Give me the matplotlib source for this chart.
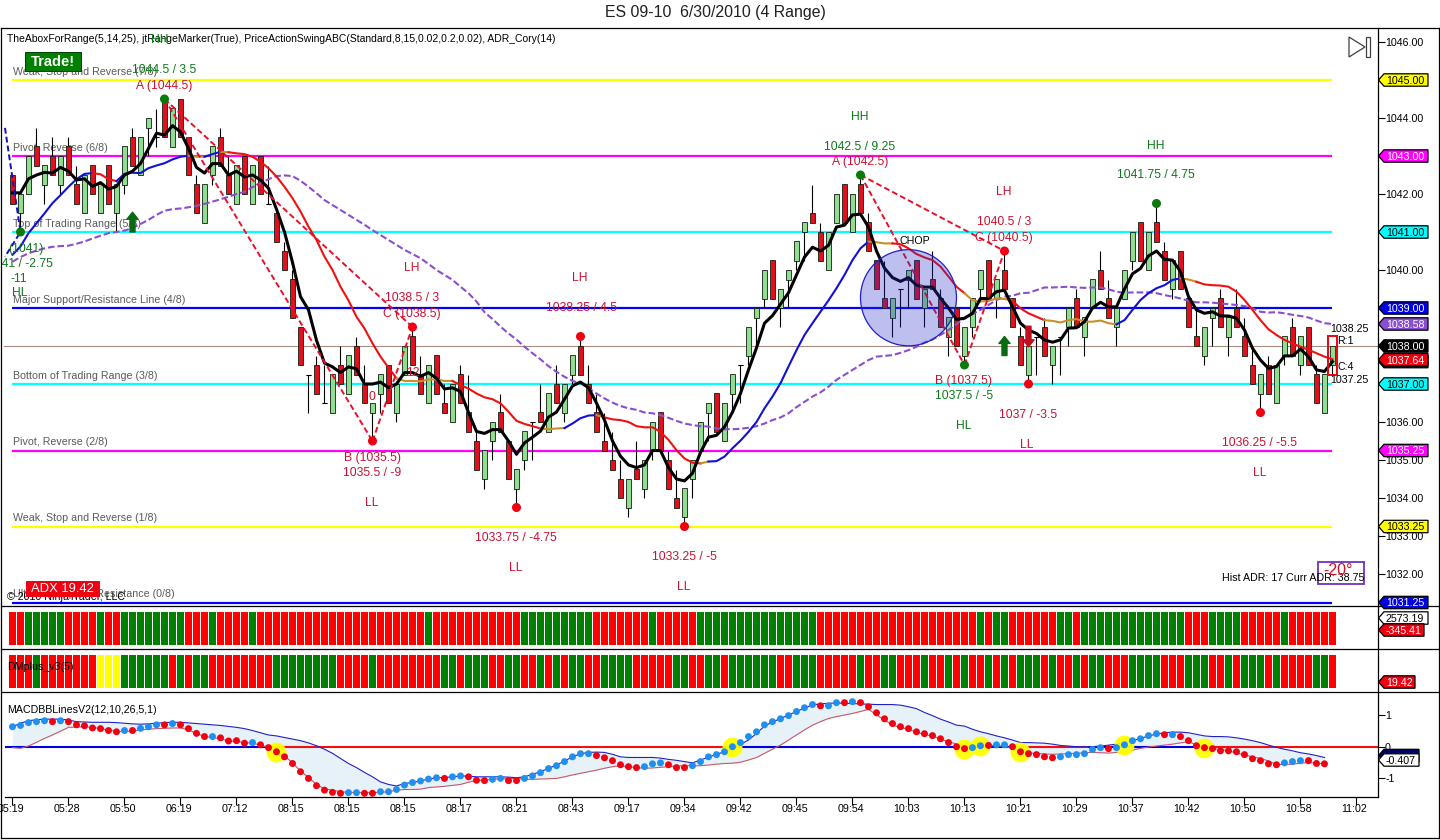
import numpy as np
import matplotlib
matplotlib.use("Agg")
import matplotlib.pyplot as plt
from matplotlib.lines import Line2D
from matplotlib.patches import Polygon, Rectangle, Ellipse
from matplotlib.transforms import IdentityTransform, ScaledTranslation

plt.rcParams['font.family'] = ['Liberation Sans', 'DejaVu Sans']
plt.rcParams['axes.unicode_minus'] = False

W, H = 1440, 840

# range bars
bar_open = [1042.5,1041.5,1042,1043.25,1042.25,1043,1042.25,1043.25,1042.25,1041.5,
 1042.75,1041.5,1042.75,1041.5,1042.25,1043.5,1042.5,1043.75,1043.5,1044.5,
 1043.25,1044.5,1043.5,1042.25,1041.25,1042.5,1043.5,1042.5,1041.75,1043,
 1041.75,1043,1041.75,1041.5,1040.5,1039.75,1038.5,1037.25,1037.5,1036.5,
 1036.25,1037.5,1036.75,1038,1037,1036.25,1036.75,1037.5,1036.25,1037.25,
 1038.25,1037.25,1036.5,1037.75,1036.5,1036,1037.25,1036.25,1035.5,1034.5,
 1035.5,1036.25,1035.5,1034.25,1035,1036,1036.25,1035.75,1037,1036.25,
 1037.25,1038,1037,1036.25,1035.5,1035,1034.5,1033.75,1034.75,1034.25,
 1035.25,1036.25,1035,1034,1033.5,1034.5,1035.25,1036.25,1036.75,1035.5,
 1036.75,1037.5,1037.75,1038.75,1039.25,1040.25,1039,1039.75,1040.25,1041,
 1041.5,1041,1040,1041.25,1042.25,1041,1042.25,1041.25,1040.25,1039.25,
 1038.75,1039.5,1039.75,1040.25,1039,1039.75,1039.25,1038.25,1039,1037.75,
 1038.5,1039.5,1040.25,1039.25,1040,1039.25,1038.25,1037.25,1038.25,1038.5,
 1037.5,1038.25,1038.5,1039.25,1038.25,1039,1040,1039.25,1038.5,1039.25,
 1040.25,1041.25,1040,1041.25,1040.5,1039.5,1040.5,1039.25,1038.25,1037.75,
 1038.75,1039.25,1038.25,1039,1038.25,1037.5,1036.75,1037.5,1036.5,1037.75,
 1038.5,1037.5,1038.5,1037.25,1036.25,1037.5]
bar_high = [1042.5,1042,1043,1043.75,1042.75,1043.5,1043,1043.5,1042.75,1042.5,
 1042.75,1042.25,1042.75,1042.25,1043.25,1043.75,1043.5,1044,1044.25,1044.5,
 1044.25,1044.5,1043.5,1042.5,1042.25,1043.25,1043.75,1043,1042.75,1043,
 1042.75,1043,1042.75,1041.5,1040.75,1040,1038.5,1037.25,1037.75,1037.5,
 1037.25,1038,1037.75,1038.25,1037.5,1036.5,1037.25,1037.5,1037,1038,
 1038.5,1037.75,1037.5,1037.75,1037,1037,1037.5,1037.25,1035.75,1035.25,
 1036,1036.75,1035.5,1034.75,1035.75,1036,1037,1036.75,1037.5,1037,
 1037.75,1038.25,1037.5,1036.75,1036.25,1035.75,1035,1034.5,1035.5,1035,
 1036,1036.25,1035.25,1034.75,1034.25,1035,1036,1036.5,1036.75,1036.5,
 1037.25,1037.5,1038.5,1039,1040,1040.25,1039.5,1040,1040.75,1041.25,
 1042.25,1041.25,1041,1042,1042.25,1042,1042.5,1041.5,1040.25,1040.25,
 1039.25,1039.5,1040,1040.25,1039.5,1040.5,1039.5,1038.75,1039,1038.5,
 1039.25,1040,1040.25,1039.75,1040.5,1039.25,1038.5,1038,1038.25,1038.75,
 1038,1038.25,1039,1039.5,1038.75,1039.75,1040.5,1039.75,1039,1040,
 1041,1041.25,1041,1041.75,1040.75,1040.25,1040.5,1039.25,1039,1038.5,
 1039,1039.5,1038.75,1039.5,1038.75,1038,1037.25,1037.75,1037.5,1038.25,
 1038.75,1038.25,1038.5,1037.5,1037.25,1038]
bar_low = [1041.75,1041,1042,1042.75,1041.75,1042.5,1042,1042.5,1041.75,1041.5,
 1042,1041.5,1041.75,1041,1042,1042.75,1042.5,1043,1043.25,1043.5,
 1043.25,1043.5,1042.5,1041.5,1041.25,1042.25,1042.75,1042,1041.75,1042,
 1041.75,1042,1041.75,1040.75,1040,1038.75,1037.5,1036.25,1036.75,1036.5,
 1036.25,1037,1036.75,1037.25,1036.5,1035.5,1036.25,1036.5,1036,1037.25,
 1037.5,1036.75,1036.5,1036.75,1036.25,1036,1036.5,1035.75,1034.75,1034.25,
 1035,1035.75,1034.5,1033.75,1034.75,1035,1036,1035.75,1036.5,1036,
 1037,1037.25,1036.5,1035.75,1035.25,1034.75,1034,1033.5,1034.5,1034,
 1035,1035.25,1034.25,1033.75,1033.25,1034,1035.25,1035.5,1035.75,1035.5,
 1036.25,1036.5,1037.5,1038,1039,1039.25,1038.5,1039,1040,1040.25,
 1041.25,1040.25,1040,1041.25,1041.25,1041,1041.5,1040.5,1039.5,1039,
 1038.25,1038.5,1039,1039.25,1038.5,1039.5,1038.5,1037.75,1038,1037.5,
 1038.25,1039.25,1039.25,1038.75,1039.5,1038.5,1037.5,1037,1037.25,1037.75,
 1037,1037.25,1038,1038.5,1037.75,1039,1039.5,1038.75,1038,1039.25,
 1040,1040.25,1040,1040.75,1039.75,1039.25,1039.5,1038.5,1038,1037.5,
 1038,1038.5,1037.75,1038.5,1037.75,1037,1036.25,1036.75,1036.5,1037.5,
 1037.75,1037.25,1037.5,1036.5,1036.25,1037.25]
bar_close = [1041.75,1042,1043,1042.75,1042.75,1042.5,1043,1042.5,1041.75,1042.5,
 1042,1042.25,1041.75,1042.25,1043.25,1042.75,1043.5,1044,1043.5,1043.5,
 1044.25,1043.5,1042.5,1041.5,1042.25,1043.25,1042.75,1042,1042.75,1042,
 1042.75,1042,1041.75,1040.75,1040,1038.75,1037.5,1037.25,1036.75,1036.5,
 1037.25,1037,1037.75,1037.25,1036.5,1036.5,1037.25,1036.5,1037,1038,
 1037.5,1036.75,1037.5,1036.75,1036.25,1037,1036.5,1035.75,1034.75,1035.25,
 1036,1035.75,1034.5,1034.75,1035.75,1036,1036,1036.75,1036.5,1037,
 1037.75,1037.25,1036.5,1035.75,1035.25,1034.75,1034,1034.5,1034.5,1035,
 1036,1035.25,1034.25,1033.75,1034.25,1035,1036,1036.5,1035.75,1036.5,
 1037.25,1037.5,1038.5,1039,1040,1039.25,1039.5,1040,1040.75,1041.25,
 1041.25,1040.25,1041,1042,1041.25,1042,1041.5,1040.5,1039.5,1039,
 1039.25,1039.5,1040,1039.25,1039.5,1039.5,1038.5,1038.75,1038,1038.5,
 1039.25,1040,1039.25,1039.75,1039.5,1038.5,1037.5,1038,1038.25,1037.75,
 1038,1038.25,1039,1038.5,1038.75,1039.75,1039.5,1038.75,1039,1040,
 1041,1040.25,1041,1040.75,1039.75,1040.25,1039.5,1038.5,1038,1038.5,
 1039,1038.5,1038.75,1038.5,1037.75,1037,1037.25,1036.75,1037.5,1038.25,
 1037.75,1038.25,1037.5,1036.5,1037.25,1038]

# black fast average
fast_line = [1042.03,1042.03,1042.4,1042.5,1042.57,1042.55,1042.7,1042.6,1042.37,1042.4,
 1042.2,1042.3,1042.13,1042.2,1042.5,1042.6,1042.8,1043.2,1043.6,1043.55,
 1043.8,1043.63,1043.2,1042.7,1042.55,1042.8,1042.8,1042.5,1042.6,1042.45,
 1042.5,1042.37,1042.15,1041.6,1041,1040.2,1039.3,1038.95,1038.15,1037.55,
 1037.45,1037.3,1037.45,1037.4,1037,1037,1037.05,1036.9,1037,1037.3,
 1037.3,1037.2,1037.3,1037.15,1036.87,1036.9,1036.8,1036.25,1035.75,1035.7,
 1035.8,1035.8,1035.5,1035.15,1035.45,1035.6,1035.76,1036.13,1036.26,1036.6,
 1036.95,1037.05,1036.9,1036.5,1036.05,1035.5,1035.1,1034.87,1034.8,1034.87,
 1035.25,1035.25,1034.8,1034.5,1034.45,1034.65,1035.2,1035.6,1035.65,1035.87,
 1036.26,1036.75,1037.37,1037.95,1038.6,1038.8,1039.1,1039.4,1039.87,1040.34,
 1040.6,1040.5,1040.65,1041.13,1041.18,1041.45,1041.47,1041.13,1040.5,1040.05,
 1039.8,1039.7,1039.8,1039.6,1039.55,1039.55,1039.26,1039,1038.7,1038.73,
 1038.86,1039.25,1039.25,1039.43,1039.47,1039.03,1038.6,1038.42,1038.33,1038.16,
 1038.1,1038.16,1038.47,1038.48,1038.64,1039,1039.15,1039.03,1039.03,1039.5,
 1039.9,1040.04,1040.37,1040.5,1040.28,1040.26,1039.96,1039.3,1038.95,1038.86,
 1038.9,1038.79,1038.79,1038.73,1038.42,1037.94,1037.63,1037.41,1037.46,1037.74,
 1037.74,1037.92,1037.72,1037.37,1037.33,1037.59]

# blue/red/orange trend average
trend_line = [1040.4,1040.62,1040.97,1041.23,1041.49,1041.76,1041.97,1042.19,1042.39,1042.53,
 1042.55,1042.52,1042.39,1042.34,1042.53,1042.56,1042.55,1042.68,1042.75,1042.81,
 1042.91,1042.98,1043.01,1042.98,1042.98,1043.05,1043.11,1043.1,1043.07,1043.05,
 1042.98,1042.85,1042.68,1042.46,1042.19,1041.89,1041.54,1041.14,1040.79,1040.35,
 1040,1039.56,1039.2,1038.77,1038.46,1038.07,1037.72,1037.43,1037.15,1037.08,
 1037.08,1037.07,1037.12,1037.12,1037.08,1037.08,1036.97,1036.88,1036.75,1036.65,
 1036.6,1036.49,1036.27,1036.03,1035.95,1035.89,1035.83,1035.81,1035.83,1035.84,
 1035.96,1036.1,1036.17,1036.18,1036.12,1036.07,1036.05,1036,1035.89,1035.86,
 1035.86,1035.74,1035.53,1035.26,1035.04,1034.93,1034.91,1034.96,1034.97,1035.09,
 1035.31,1035.51,1035.74,1036,1036.36,1036.67,1037.02,1037.46,1037.89,1038.29,
 1038.6,1038.9,1039.2,1039.52,1039.87,1040.26,1040.57,1040.75,1040.73,1040.7,
 1040.7,1040.68,1040.57,1040.42,1040.33,1040.26,1040.09,1039.83,1039.56,1039.39,
 1039.2,1039.17,1039.19,1039.25,1039.24,1039.19,1038.99,1038.86,1038.77,1038.68,
 1038.66,1038.62,1038.68,1038.71,1038.64,1038.64,1038.67,1038.6,1038.57,1038.68,
 1038.95,1039.21,1039.39,1039.52,1039.6,1039.74,1039.78,1039.75,1039.69,1039.62,
 1039.6,1039.59,1039.56,1039.43,1039.21,1038.95,1038.68,1038.44,1038.29,1038.16,
 1038.07,1037.98,1037.9,1037.81,1037.72,1037.65]
trend_runs = [(0,10,'b'),(10,13,'r'),(13,22,'b'),(22,24,'o'),(24,26,'b'),(26,27,'o'),(27,48,'r'),
 (48,55,'o'),(55,66,'r'),(66,69,'o'),(69,73,'b'),(73,74,'o'),(74,86,'r'),(86,87,'o'),(87,107,'b'),
 (107,110,'o'),(110,119,'r'),(119,125,'o'),(125,129,'r'),(129,138,'o'),(138,146,'b'),(146,148,'o'),(148,165,'r')]

# purple dashed slow average
slow_line = [1040.22,1040.34,1040.44,1040.51,1040.57,1040.61,1040.63,1040.64,1040.69,1040.75,
 1040.83,1040.9,1040.97,1041,1041.04,1041.1,1041.21,1041.32,1041.45,1041.56,
 1041.6,1041.62,1041.65,1041.69,1041.74,1041.8,1041.86,1041.93,1042,1042.06,
 1042.18,1042.28,1042.39,1042.47,1042.49,1042.47,1042.35,1042.19,1042.02,1041.84,
 1041.71,1041.58,1041.45,1041.32,1041.19,1041.05,1040.92,1040.79,1040.66,1040.53,
 1040.42,1040.31,1040.16,1040,1039.87,1039.74,1039.56,1039.39,1039.17,1038.89,
 1038.71,1038.51,1038.33,1038.17,1037.98,1037.81,1037.65,1037.47,1037.32,1037.19,
 1037.08,1037.02,1036.89,1036.75,1036.62,1036.51,1036.42,1036.36,1036.32,1036.25,
 1036.23,1036.18,1036.11,1036.03,1035.96,1035.92,1035.89,1035.88,1035.83,1035.81,
 1035.81,1035.82,1035.85,1035.89,1035.96,1036.05,1036.12,1036.23,1036.39,1036.53,
 1036.67,1036.78,1036.93,1037.11,1037.24,1037.37,1037.5,1037.63,1037.72,1037.74,
 1037.76,1037.82,1037.89,1037.98,1038.09,1038.17,1038.29,1038.42,1038.58,1038.73,
 1038.84,1038.95,1039.08,1039.21,1039.3,1039.32,1039.39,1039.4,1039.47,1039.54,
 1039.54,1039.55,1039.56,1039.54,1039.53,1039.54,1039.54,1039.49,1039.43,1039.4,
 1039.41,1039.41,1039.41,1039.39,1039.34,1039.3,1039.25,1039.19,1039.15,1039.15,
 1039.14,1039.12,1039.1,1039.08,1039.05,1038.99,1038.9,1038.88,1038.89,1038.86,
 1038.82,1038.79,1038.75,1038.67,1038.6,1038.58]

# octave levels
level_values = [1045, 1043, 1041, 1039, 1037, 1035.25, 1033.25, 1031.25]
level_colors = ['#FFFF00', '#FF00FF', '#00FFFF', '#0000FF', '#00FFFF', '#FF00FF', '#FFFF00', '#0000FF']
level_names = ['Weak, Stop and Reverse (7/8)', 'Pivot, Reverse (6/8)', 'Top of Trading Range (5/8)',
               'Major Support/Resistance Line (4/8)', 'Bottom of Trading Range (3/8)',
               'Pivot, Reverse (2/8)', 'Weak, Stop and Reverse (1/8)', 'Ultimate Support/Resistance (0/8)']
last_price = 1038.0

# swing points: bar, price, colour
swing_bars = [1, 19, 45, 50, 63, 71, 84, 106, 119, 124, 127, 143, 156]
swing_prices = [1041, 1044.5, 1035.5, 1038.5, 1033.75, 1038.25, 1033.25, 1042.5, 1037.5, 1040.5, 1037, 1041.75, 1036.25]
swing_cols = ['g', 'g', 'r', 'r', 'r', 'r', 'r', 'g', 'g', 'r', 'r', 'g', 'r']
abc_legs = [((19, 1044.5), (45, 1035.5)), ((19, 1044.5), (50, 1038.5)), ((45, 1035.5), (50, 1038.5)),
            ((106, 1042.5), (119, 1037.5)), ((106, 1042.5), (124, 1040.5)), ((119, 1037.5), (124, 1040.5))]
early_leg_x = [-0.94, 1, -0.94]
early_leg_y = [1043.74, 1041, 1040.35]

# painted strips
strip_adx = ("RR"+"G"*5+"R"*4+"G"+"RR"+"G"*8+"RRR"+"G"+"R"*4+"G"+"R"*21+"G"+"R"*11+"G"*9+"R"*7+"G"+"R"*5
             +"G"*15+"R"*20+"G"+"R"+"GG"+"R"*6+"GG"+"R"+"G"*13+"RRR"+"G"*4+"R"*5+"G"+"R"*6)
strip_dm = ("RRR"+"G"+"R"*7+"YYY"+"G"*6+"R"+"G"+"R"+"GG"+"R"*8+"G"*8+"R"*4+"G"+"R"*8+"GG"+"R"+"GGG"+"RR"+"GG"
            +"RR"+"G"+"R"+"G"+"R"+"GG"+"RR"+"G"*4+"R"*5+"GG"+"RR"+"GG"+"R"+"G"*6+"RR"+"GGG"+"R"*5+"G"+"RR"+"GG"
            +"RRR"+"G"+"RR"+"G"+"R"+"G"+"RR"+"G"+"R"+"G"+"R"+"GGG"+"R"+"G"+"RR"+"G"+"R"+"GG"+"RRR"+"G"*4+"RRR"
            +"GGG"+"RR"+"G"+"R"+"GGG"+"R"+"G"+"R"*4+"GG"+"R")

# MACD dots and bands
macd_dots = [.63,.67,.76,.79,.82,.79,.82,.79,.69,.66,.59,.57,.51,.47,.51,.51,.58,.63,.69,.69,
 .73,.69,.57,.42,.32,.32,.28,.18,.19,.11,.13,.06,-.03,-.16,-.32,-.53,-.79,-1,-1.23,-1.37,
 -1.44,-1.47,-1.45,-1.45,-1.47,-1.47,-1.42,-1.42,-1.35,-1.21,-1.13,-1.08,-1.02,-.98,-1,-.95,-.92,-.95,-1.06,
 -1.07,-1.03,-1,-1.07,-1.07,-1,-.92,-.82,-.69,-.6,-.47,-.32,-.22,-.22,-.28,-.35,-.44,-.57,-.63,-.66,
 -.63,-.54,-.51,-.57,-.66,-.66,-.6,-.47,-.32,-.25,-.16,0,.13,.32,.47,.69,.79,.88,.98,1.11,
 1.23,1.33,1.29,1.29,1.39,1.39,1.42,1.39,1.26,1.07,.88,.73,.63,.57,.47,.41,.35,.25,.13,0,
 -.06,-.03,.03,.04,.06,.06,0,-.16,-.22,-.25,-.32,-.35,-.32,-.25,-.25,-.22,-.09,-.03,-.06,-.03,
 .06,.19,.25,.35,.41,.38,.38,.32,.19,.03,-.03,-.06,-.13,-.13,-.16,-.25,-.38,-.44,-.54,-.57,
 -.51,-.47,-.44,-.44,-.53,-.54]
macd_cols = ("b"*5+"r"+"b"+"r"*7+"b"+"r"+"bbb"+"r"+"b"+"r"*4+"b"+"r"*4+"b"+"r"*11+"bb"+"rr"+"b"*8+"r"+"bb"+"rr"
             +"r"+"bb"+"rr"+"b"*9+"r"*6+"bbb"+"rrr"+"b"*16+"r"+"bb"+"r"+"b"+"r"*13
             +"r"+"bb"+"r"+"bb"+"r"*6+"b"*6+"r"+"b"*6+"r"+"b"+"r"*13+"bbb"+"rrr")
macd_upper = [.63,.74,.82,.85,.87,.87,.87,.84,.79,.78,.77,.77,.77,.76,.74,.72,.71,.72,.74,.76,
 .77,.77,.75,.73,.71,.69,.67,.64,.61,.57,.51,.44,.37,.34,.29,.24,.19,.12,.03,-.08,
 -.21,-.37,-.53,-.66,-.81,-.95,-1.11,-1.19,-1.24,-1.16,-1.13,-1.08,-1.02,-.98,-.97,-.95,-.92,-.93,-.95,
 -.95,-.95,-.95,-.96,-.98,-.95,-.87,-.79,-.68,-.58,-.45,-.32,-.22,-.18,-.17,-.18,-.24,-.32,-.34,-.34,
 -.34,-.34,-.36,-.4,-.43,-.47,-.51,-.42,-.33,-.24,-.16,-.05,.07,.21,.42,.65,.78,.89,1,1.11,
 1.22,1.32,1.35,1.37,1.38,1.37,1.36,1.35,1.34,1.33,1.33,1.33,1.31,1.26,1.2,1.08,.98,.87,.78,.68,
 .65,.55,.47,.41,.34,.28,.21,.13,.13,.12,.11,.08,.04,.02,0,0,0,.02,.05,.08,
 .13,.19,.26,.34,.4,.44,.46,.46,.44,.39,.34,.32,.32,.31,.28,.24,.19,.13,.05,-.02,
 -.08,-.13,-.19,-.23,-.28,-.34]
macd_lower = [-.03,-.05,.02,.14,.26,.37,.49,.61,.62,.63,.61,.57,.53,.48,.48,.49,.53,.55,.57,.58,
 .59,.59,.53,.42,.32,.29,.25,.18,.17,.13,.11,.05,-.03,-.16,-.29,-.51,-.77,-.97,-1.19,-1.33,
 -1.37,-1.42,-1.44,-1.45,-1.45,-1.45,-1.44,-1.42,-1.37,-1.35,-1.35,-1.34,-1.29,-1.27,-1.25,-1.22,-1.19,-1.12,-1.07,
 -1.05,-1.03,-1.01,-1.01,-1,-1.03,-1.03,-1.02,-1.01,-1,-.95,-.89,-.84,-.79,-.74,-.68,-.63,-.6,-.63,-.66,
 -.68,-.67,-.65,-.63,-.61,-.6,-.6,-.6,-.58,-.55,-.53,-.52,-.49,-.42,-.34,-.21,-.08,.05,.21,.37,
 .53,.68,.79,.89,.95,1,1.05,1.11,1.18,1,.84,.68,.6,.55,.45,.39,.33,.24,.16,.08,
 .06,.04,.05,.04,.04,.01,-.05,-.16,-.2,-.21,-.23,-.24,-.23,-.22,-.21,-.19,-.18,-.19,-.2,-.18,
 -.17,-.11,-.05,-.01,.02,.05,.08,.12,.16,.05,-.03,-.06,-.09,-.13,-.2,-.26,-.32,-.37,-.45,-.56,
 -.56,-.55,-.52,-.5,-.52,-.54]
cross_bars = [33, 90, 119, 121, 126, 139, 149]
zero_runs = [(-0.94, 33, 'b'), (33, 90, 'r'), (90, 126, 'b'), (126, 134.5, 'r'), (134.5, 149, 'b'), (149, 170.69, 'r')]

time_labels = ['05:19','05:28','05:50','06:19','07:12','08:15','08:15','08:15','08:17','08:21','08:43','09:17',
               '09:34','09:42','09:45','09:54','10:03','10:13','10:21','10:29','10:37','10:42','10:50','10:58','11:02']

GREEN_TXT = '#0E7A1C'
RED_TXT = '#CC1230'
chart_notes = [
    (160, 40, 'HH', GREEN_TXT), (164, 70, '1044.5 / 3.5', GREEN_TXT), (164, 86, 'A (1044.5)', RED_TXT),
    (26, 249, '(1041)', GREEN_TXT), (19, 279, '-11', GREEN_TXT), (20, 293, 'HL', GREEN_TXT),
    (412, 268, 'LH', RED_TXT), (412, 298, '1038.5 / 3', RED_TXT), (412, 314, 'C (1038.5)', RED_TXT),
    (372, 458, 'B (1035.5)', RED_TXT), (372, 473, '1035.5 / -9', RED_TXT), (372, 503, 'LL', RED_TXT),
    (372, 397, '0', RED_TXT), (413, 373, '12', RED_TXT),
    (580, 278, 'LH', RED_TXT), (581, 308, '1038.25 / 4.5', RED_TXT),
    (516, 538, '1033.75 / -4.75', RED_TXT), (516, 568, 'LL', RED_TXT),
    (684, 557, '1033.25 / -5', RED_TXT), (684, 587, 'LL', RED_TXT),
    (860, 117, 'HH', GREEN_TXT), (860, 147, '1042.5 / 9.25', GREEN_TXT), (860, 162, 'A (1042.5)', RED_TXT),
    (1004, 192, 'LH', RED_TXT), (1004, 222, '1040.5 / 3', RED_TXT), (1004, 238, 'C (1040.5)', RED_TXT),
    (1156, 146, 'HH', GREEN_TXT), (1156, 175, '1041.75 / 4.75', GREEN_TXT),
    (964, 381, 'B (1037.5)', RED_TXT), (964, 396, '1037.5 / -5', GREEN_TXT), (964, 426, 'HL', GREEN_TXT),
    (1028, 415, '1037 / -3.5', RED_TXT), (1027, 445, 'LL', RED_TXT),
    (1260, 443, '1036.25 / -5.5', RED_TXT), (1260, 473, 'LL', RED_TXT),
    (915, 241, 'CHOP', 'black'), (1349, 329, '1038.25', 'black'), (1345, 341, 'R:1', 'black'),
    (1346, 367, 'C:4', 'black'), (1349, 380, '1037.25', 'black'), (1293, 578, 'Hist ADR: 17 Curr ADR: 38.75', 'black'),
]

FS = 7.7
NOTE_FS = 8.7
fig = plt.figure(figsize=(W / 100, H / 100), dpi=100, facecolor='white')


def panel(top, bottom):
    a = fig.add_axes([1 / W, 1 - bottom / H, 1377 / W, (bottom - top) / H])
    a.set_xlim(-1.4375, 170.69)
    for s in ['top', 'left', 'bottom']:
        a.spines[s].set_visible(False)
    a.spines['right'].set_linewidth(0.9)
    a.patch.set_alpha(0)
    a.set_xticks([])
    a.set_yticks([])
    a.yaxis.tick_right()
    return a


ax = panel(27.5, 606)
ax.set_ylim(1040 - (606 - 270) / 38, 1040 + (270 - 27.5) / 38)
ax_adx = panel(606, 649)
ax_dm = panel(649, 692)
ax_m = panel(692, 797)
ax_m.set_ylim(-(797 - 746.7) / 31.7, (746.7 - 692) / 31.7)

x = np.arange(len(bar_open))

# levels and their names
ax.axhline(last_price, color='#A58C80', lw=0.8, xmin=0.0023, zorder=1)
for v, c, name in zip(level_values, level_colors, level_names):
    ax.plot([0, 165], [v, v], color=c, lw=1.6, zorder=1, solid_capstyle='butt')
    ax.text(0.05, v + 0.08, name, color='#5A5A5A', fontsize=FS, va='bottom', ha='left', zorder=1)

# candles
o = np.array(bar_open)
c = np.array(bar_close)
ax.vlines(x, bar_low, bar_high, color='black', lw=0.8, zorder=3)
body_col = ['#90DC90' if cl > op else '#E0101E' for op, cl in zip(o, c)]
ax.bar(x, np.abs(c - o), bottom=np.minimum(o, c), width=0.6, color=body_col, edgecolor='#102010', lw=0.6, zorder=3)
doji = o == c
ax.hlines(o[doji], x[doji] - 0.3, x[doji] + 0.3, color='black', lw=0.8, zorder=3)

# averages
ax.plot(x, slow_line, color='#8A4FD0', lw=1.5, ls=(0, (3.2, 1.4)), zorder=4)
run_col = {'b': '#1010D8', 'r': '#F01010', 'o': '#C89028'}
for a, b, k in trend_runs:
    ax.plot(x[a:b + 1], trend_line[a:b + 1], color=run_col[k], lw=1.5, zorder=4)
ax.plot(x, fast_line, color='black', lw=2.2, zorder=5, solid_joinstyle='round')

# swings
for p, q in abc_legs:
    ax.plot([p[0], q[0]], [p[1], q[1]], color='#E8102A', lw=1.4, ls=(0, (3, 1.6)), zorder=6)
ax.plot(early_leg_x, early_leg_y, color='#1010C0', lw=1.4, ls=(0, (3, 1.6)), zorder=6)
swing_colors = ['#0A7A0A' if k == 'g' else '#F00010' for k in swing_cols]
ax.scatter(swing_bars, swing_prices, s=30, marker='o', color=swing_colors, zorder=7)

# arrows
for bar_x, p0, p1, col in [(15, 1041.0, 1041.52, '#0A6A14'), (124, 1037.75, 1038.25, '#0A6A14'), (127, 1038.52, 1037.98, '#C01020')]:
    ax.annotate('', xy=(bar_x, p1), xytext=(bar_x, p0), zorder=7,
                arrowprops=dict(width=3.6, headwidth=8, headlength=5, color=col, shrink=0))

# chop circle
ax.add_patch(Ellipse((112, 1039.27), 12, 2.53, fc=(0.15, 0.18, 0.78, 0.3), ec='#2020C8', lw=0.9, zorder=8))

# last bar box
ax.add_patch(Rectangle((164.4, 1037.25), 1.2, 1.0, fc='none', ec='#F00010', lw=1.4, zorder=8))

# axis ticks main
ax.set_yticks(np.arange(1032, 1047))
ax.set_yticklabels(['%.2f' % t for t in np.arange(1032, 1047)], fontsize=FS)
ax.tick_params(axis='y', length=4.7, width=0.8, pad=0.4)

# strips
strip_map = {'R': '#FF0000', 'G': '#008000', 'Y': '#FFFF00'}
for a_s, s in [(ax_adx, strip_adx), (ax_dm, strip_dm)]:
    a_s.bar(x, 1, width=0.9, bottom=0, color=[strip_map[k] for k in s])
    a_s.set_ylim(-4 / 33, 1 + 6 / 33)

# MACD
mx = np.arange(len(macd_dots))
ax_m.fill_between(mx, macd_lower, macd_upper, color='#E6F1F8', lw=0, zorder=1)
for a, b, k in zero_runs:
    ax_m.plot([a, b], [0, 0], color='#0000DD' if k == 'b' else '#F01010', lw=1.5, zorder=2, solid_capstyle='butt')
ax_m.plot(mx, macd_upper, color='#2020C8', lw=0.8, zorder=3)
ax_m.plot(mx, macd_lower, color='#C85868', lw=0.8, zorder=3)
ax_m.scatter(cross_bars, [macd_dots[i] for i in cross_bars], s=205, color='#FFFF00', lw=0, alpha=0.95, zorder=4)
ax_m.scatter(mx, macd_dots, s=25, lw=0, zorder=5, color=['#2090F0' if k == 'b' else '#F00010' for k in macd_cols])
ax_m.set_yticks([-1, 0, 1])
ax_m.set_yticklabels(['-1', '0', '1'], fontsize=FS)
ax_m.tick_params(axis='y', length=4.7, width=0.8, pad=0.4)
ax_m.spines['bottom'].set_visible(True)
ax_m.spines['bottom'].set_bounds(-0.94, 170.69)
ax_m.spines['bottom'].set_linewidth(0.9)
ax_m.set_xticks(np.arange(0, 169, 7))
ax_m.set_xticklabels(time_labels, fontsize=FS)
ax_m.tick_params(axis='x', length=5.8, width=0.8, pad=-1)
for lab in ax_m.get_xticklabels():
    lab.set_transform(lab.get_transform() + ScaledTranslation(-0.02, 0, fig.dpi_scale_trans))

# chart frame and panel rules
for (x0, y0, x1, y1) in [(1, 27.5, 1439, 27.5), (1, 27.5, 1, 838), (1439, 27.5, 1439, 838), (1, 838, 1439, 838),
                         (1, 606, 1439, 606), (1, 649, 1439, 649), (1, 692, 1439, 692)]:
    fig.add_artist(Line2D([x0 / W, x1 / W], [1 - y0 / H, 1 - y1 / H], color='black', lw=0.9))


def put(px, py, s, **kw):
    kw.setdefault('fontsize', FS)
    kw.setdefault('ha', 'center')
    kw.setdefault('va', 'center')
    kw.setdefault('zorder', 20)
    return fig.text(px / W, 1 - py / H, s, **kw)


def box(x0, y0, x1, y1, fc, ec):
    fig.add_artist(Rectangle((x0 / W, 1 - y1 / H), (x1 - x0) / W, (y1 - y0) / H, fc=fc, ec=ec, lw=0.7, zorder=21))


def price_y(a, v):
    return H - a.transData.transform((0, v))[1]


def tag(py, s, fc, tc='black', right=1428, h=6.2):
    y = H - py
    pts = [(1378.5, y), (1384, y + h), (right, y + h), (right, y - h), (1384, y - h)]
    fig.add_artist(Polygon(pts, closed=True, fc=fc, ec='black', lw=0.9, transform=IdentityTransform(), zorder=21))
    fig.text(1386 / W, y / H, s, color=tc, fontsize=FS, ha='left', va='center_baseline', zorder=22)


# notes
put(715, 13, 'ES 09-10  6/30/2010 (4 Range)', fontsize=11.4, color='#202020')
put(7, 38.5, 'TheAboxForRange(5,14,25), jtRangeMarker(True), PriceActionSwingABC(Standard,8,15,0.02,0.2,0.02), ADR_Cory(14)',
    ha='left', color='black', fontsize=7.44)
for px, py, s, col in chart_notes:
    put(px, py, s, color=col, fontsize=FS if col == 'black' else NOTE_FS)
ax.text(52.7 / W, 1 - 264 / H, '1041 / -2.75', transform=fig.transFigure, color=GREEN_TXT, fontsize=NOTE_FS,
        ha='right', va='center', clip_on=True, zorder=9)

put(7, 597, '© 2010 NinjaTrader, LLC', ha='left', color='black')
box(25, 52, 81, 71, '#008000', '#004000')
put(53, 61.5, 'Trade!', color='white', fontsize=10.5, fontweight='bold', zorder=22)
box(26, 581, 99, 596, '#F00010', '#F00010')
put(62.5, 588.5, 'ADX 19.42', color='white', fontsize=9.4, zorder=22)
put(7, 667, 'DMplus_v3(5)', ha='left', color='black')
put(7, 710, 'MACDBBLinesV2(12,10,26,5,1)', ha='left', color='black')

# -20 degree box
fig.add_artist(Rectangle((1317.7 / W, 1 - 584 / H), 46.6 / W, 22.3 / H, fc='none', ec='#7030C0', lw=1.3, zorder=19))
put(1338, 570.5, '-20°', color='#D01020', fontsize=11.5)

# next-bar icon
fig.add_artist(Polygon([(1349, H - 37), (1365, H - 47), (1349, H - 57)], closed=True, fc='white', ec='#404040', lw=0.9,
                       transform=IdentityTransform(), zorder=19))
fig.add_artist(Rectangle((1366, H - 57), 4, 20, fc='white', ec='#404040', lw=0.9, transform=IdentityTransform(), zorder=19))

# price tags
tag(price_y(ax, 1045), '1045.00', '#FFFF00')
tag(price_y(ax, 1043), '1043.00', '#FF00FF', 'white')
tag(price_y(ax, 1041), '1041.00', '#00FFFF')
tag(price_y(ax, 1039), '1039.00', '#0000E0', 'white')
tag(price_y(ax, 1038.58), '1038.58', '#8A4FD0', 'white')
tag(price_y(ax, 1038), '1038.00', 'black', 'white')
tag(price_y(ax, 1037.59), '', 'black', 'white')
tag(price_y(ax, 1037.64), '1037.64', '#F00010', 'white')
tag(price_y(ax, 1037), '1037.00', '#00FFFF')
tag(price_y(ax, 1035.25), '1035.25', '#FF00FF', 'white')
tag(price_y(ax, 1033.25), '1033.25', '#FFFF00')
tag(price_y(ax, 1031.25), '1031.25', '#0000E0', 'white')
tag(618, '2573.19', 'white')
tag(630, '-345.41', '#F00010', 'white', right=1424)
tag(682, '19.42', '#F00010', 'white', right=1415)
tag(755.5, '', '#000060', right=1419)
tag(760, '-0.407', 'white', right=1419)

fig.savefig('out.png', dpi=100, facecolor='white')
